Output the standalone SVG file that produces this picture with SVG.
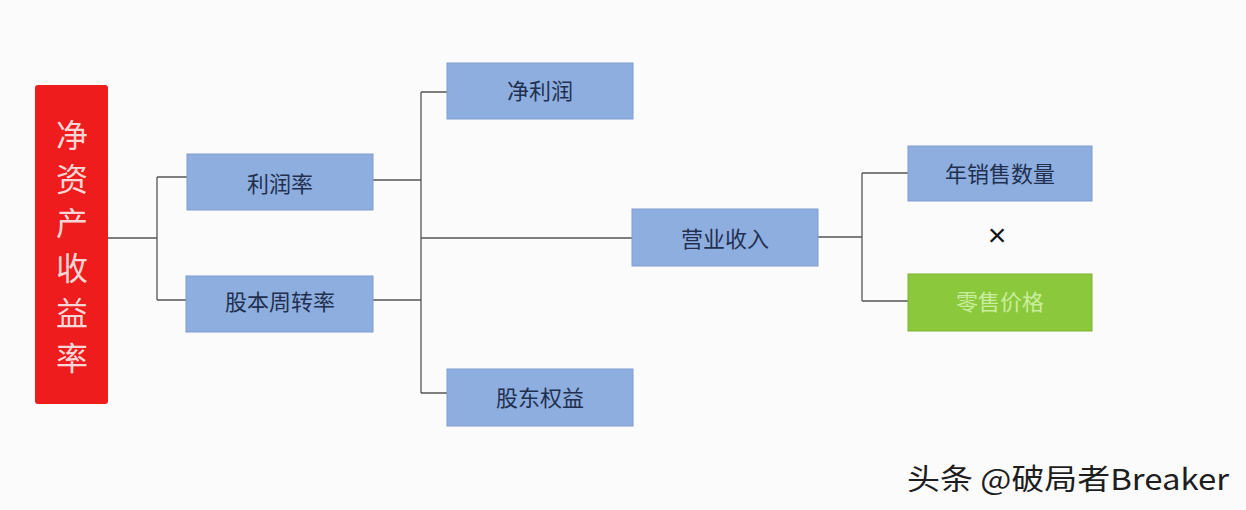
<svg xmlns="http://www.w3.org/2000/svg" width="1246" height="510" viewBox="0 0 1246 510">
<style>
.box{fill:#8eaee0;stroke:#7f9dcc;stroke-width:1}
.lbl{font-family:"Noto Sans CJK SC",sans-serif;font-size:22px;fill:#22304f;text-anchor:middle;dominant-baseline:central}
.conn{fill:none;stroke:#555;stroke-width:1.3}
</style>
<rect width="1246" height="510" fill="#fbfbfc"/>
<g id="connectors">
<path class="conn" d="M108 238H157M157 177V300M157 177H187M157 300H186"/>
<path class="conn" d="M373 180H421M373 300H421M421 92V393M421 92H447M421 393H447M421 238H632"/>
<path class="conn" d="M818 237H862M862 173V301M862 173H908M862 301H908"/>
</g>
<g id="roe">
<rect x="35" y="85" width="73" height="319" rx="3" fill="#ee1c1c"/>
<g font-family="Noto Sans CJK SC,sans-serif" font-size="32" fill="#fbd6d6" text-anchor="middle" dominant-baseline="central">
<text x="72" y="133">净</text>
<text x="72" y="177">资</text>
<text x="72" y="221">产</text>
<text x="72" y="266">收</text>
<text x="72" y="311">益</text>
<text x="72" y="356">率</text>
</g>
</g>
<g id="profit-margin"><rect class="box" x="187" y="154" width="186" height="56"/><text class="lbl" x="280" y="182">利润率</text></g>
<g id="turnover"><rect class="box" x="186" y="276" width="187" height="56"/><text class="lbl" x="280" y="300">股本周转率</text></g>
<g id="net-profit"><rect class="box" x="447" y="63" width="186" height="56"/><text class="lbl" x="540" y="89">净利润</text></g>
<g id="equity"><rect class="box" x="447" y="369" width="186" height="57"/><text class="lbl" x="540" y="396">股东权益</text></g>
<g id="revenue"><rect class="box" x="632" y="209" width="186" height="57"/><text class="lbl" x="725" y="237">营业收入</text></g>
<g id="volume"><rect class="box" x="908" y="146" width="184" height="55"/><text class="lbl" x="1000" y="172">年销售数量</text></g>
<g id="times"><text x="997" y="235" font-family="Liberation Sans,sans-serif" font-size="32" fill="#111" text-anchor="middle" dominant-baseline="central">×</text></g>
<g id="price"><rect x="908" y="274" width="184" height="57" fill="#8cc83c" stroke="#7db432"/><text class="lbl" x="1000" y="300" style="fill:#c9ee9e">零售价格</text></g>
<text x="907" y="490" font-family="Noto Sans CJK SC,sans-serif" font-size="29" fill="#1e1e1e" textLength="322" lengthAdjust="spacingAndGlyphs">头条 @破局者Breaker</text>
</svg>
